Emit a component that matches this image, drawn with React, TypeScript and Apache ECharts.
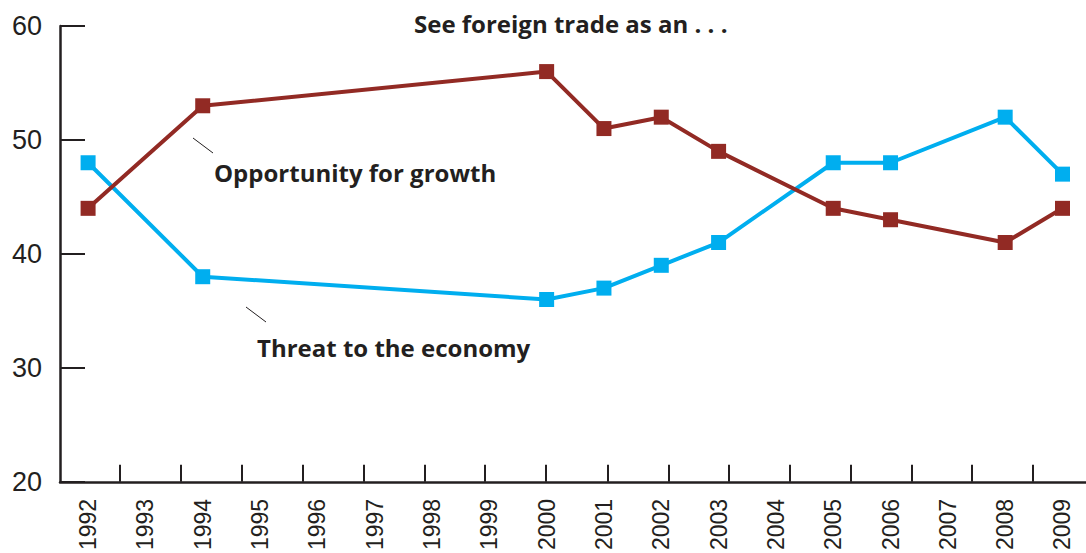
import React, { useEffect, useRef } from "react";
import * as echarts from "echarts";

const surveyYears = [1992, 1994, 2000, 2001, 2002, 2003, 2005, 2006, 2008, 2009];
const opportunityValues = [44, 53, 56, 51, 52, 49, 44, 43, 41, 44];
const threatValues = [48, 38, 36, 37, 39, 41, 48, 48, 52, 47];
const yearLabels = [1992, 1993, 1994, 1995, 1996, 1997, 1998, 1999, 2000, 2001, 2002, 2003, 2004, 2005, 2006, 2007, 2008, 2009];
const tickPositions = [1992.557, 1993.621, 1994.685, 1995.744, 1996.801, 1997.866, 1998.924, 1999.989, 2001.058, 2002.122, 2003.181, 2004.233, 2005.31, 2006.374, 2007.421, 2008.485];
const yTicks = [20, 30, 40, 50, 60];

const titleText = "See foreign trade as an . . .";
const opportunityLabel = "Opportunity for growth";
const threatLabel = "Threat to the economy";

const INK = "#231f20";
const RED = "#922a24";
const BLUE = "#00aeef";

export default function App() {
  const ref = useRef<HTMLDivElement>(null);
  useEffect(() => {
    if (!ref.current) return;
    const chart = echarts.init(ref.current, null, { renderer: "svg" });
    const boldFont = "bold 24px 'Open Sans', sans-serif";
    chart.setOption({
      animation: false,
      backgroundColor: "#ffffff",
      grid: { left: 60, right: 0, top: 26, bottom: 68, containLabel: false },
      xAxis: {
        type: "value",
        min: 1991.51,
        max: 2009.41,
        splitLine: { show: false },
        axisLine: { show: true, lineStyle: { color: INK, width: 2.5 } },
        axisTick: {
          show: true,
          inside: true,
          length: 17,
          lineStyle: { color: INK, width: 2 },
          customValues: tickPositions,
        },
        axisLabel: {
          show: true,
          rotate: 90,
          margin: 17,
          fontSize: 23,
          color: INK,
          fontFamily: "'Liberation Sans', Arial, sans-serif",
          customValues: yearLabels,
          formatter: (v: number) => String(Math.round(v)),
        },
      },
      yAxis: {
        type: "value",
        min: 20,
        max: 60,
        interval: 10,
        splitLine: { show: false },
        axisLine: { show: true, lineStyle: { color: INK, width: 2.5 } },
        axisTick: { show: true, inside: true, length: 25, lineStyle: { color: INK, width: 2 } },
        axisLabel: {
          margin: 18,
          fontSize: 27,
          color: INK,
          fontFamily: "'Liberation Sans', Arial, sans-serif",
          customValues: yTicks,
        },
      },
      series: [
        {
          name: threatLabel,
          type: "line",
          data: surveyYears.map((y, i) => [y, threatValues[i]]),
          symbol: "rect",
          symbolSize: 15,
          lineStyle: { color: BLUE, width: 4 },
          itemStyle: { color: BLUE },
        },
        {
          name: opportunityLabel,
          type: "line",
          data: surveyYears.map((y, i) => [y, opportunityValues[i]]),
          symbol: "rect",
          symbolSize: 15,
          lineStyle: { color: RED, width: 4 },
          itemStyle: { color: RED },
        },
      ],
      graphic: [
        {
          type: "text",
          x: 414,
          y: 23,
          style: { text: titleText, font: boldFont, fill: INK, align: "left", verticalAlign: "middle" },
        },
        {
          type: "text",
          x: 214,
          y: 172,
          style: { text: opportunityLabel, font: boldFont, fill: INK, align: "left", verticalAlign: "middle" },
        },
        {
          type: "text",
          x: 257,
          y: 347,
          style: { text: threatLabel, font: boldFont, fill: INK, align: "left", verticalAlign: "middle" },
        },
        {
          type: "line",
          shape: { x1: 193, y1: 138, x2: 213, y2: 153 },
          style: { stroke: INK, lineWidth: 1 },
        },
        {
          type: "line",
          shape: { x1: 246, y1: 307, x2: 266, y2: 322 },
          style: { stroke: INK, lineWidth: 1 },
        },
      ],
    });
    return () => chart.dispose();
  }, []);
  return <div ref={ref} style={{ width: 1086, height: 553, position: "absolute", left: 0, top: 0 }} />;
}
